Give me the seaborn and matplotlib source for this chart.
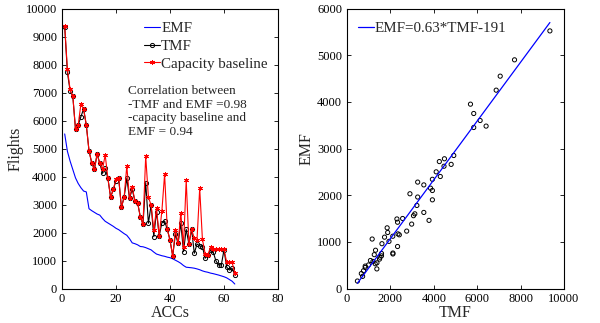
import matplotlib
matplotlib.use("Agg")
import matplotlib.pyplot as plt
import seaborn as sns
import pandas as pd

# ACC index (sorted by EMF)
acc = list(range(1, 65))

tmf = [9350, 7720, 7060, 6875, 5690, 5840, 6135, 6410, 5840, 4920,
       4490, 4255, 4800, 4470, 4110, 4300, 3935, 3257, 3540, 3850,
       3935, 2900, 3257, 3935, 3220, 3540, 3125, 3064, 2564, 2300,
       3780, 2330, 2980, 1850, 2750, 1875, 2350, 2410, 2110, 1730,
       1160, 1935, 1610, 2330, 1315, 2115, 1590, 2115, 1257, 1590,
       1520, 1500, 1080, 1195, 1380, 1300, 990, 840, 840, 1375,
       760, 660, 720, 480]

cap = [9380, 7830, 7110, 6875, 5690, 5840, 6590, 6410, 5840, 4920,
       4490, 4255, 4800, 4470, 4260, 4770, 3935, 3257, 3540, 3900,
       3935, 2900, 3257, 4380, 3220, 3640, 3125, 3064, 2564, 2300,
       4730, 3260, 2980, 2080, 2860, 1875, 2780, 4080, 2110, 1730,
       1160, 2090, 1610, 2710, 1500, 3875, 1590, 2115, 1790, 1730,
       3580, 1760, 1250, 1195, 1470, 1400, 1420, 1420, 1420, 1400,
       935, 935, 935, 560]

emf = [5520, 4900, 4550, 4250, 3950, 3750, 3600, 3480, 3450, 2850,
       2780, 2720, 2660, 2620, 2500, 2400, 2340, 2280, 2220, 2150,
       2100, 2030, 1960, 1900, 1780, 1630, 1600, 1560, 1500, 1490,
       1460, 1420, 1380, 1300, 1230, 1200, 1170, 1150, 1120, 1100,
       1060, 1010, 960, 900, 820, 760, 750, 740, 725, 700,
       670, 630, 600, 580, 550, 530, 505, 480, 450, 420,
       380, 320, 260, 160]

fit_slope = 0.63
fit_icpt = -191
corr_text = "Correlation between\n-TMF and EMF =0.98\n-capacity baseline and\nEMF = 0.94"

df = pd.DataFrame({"ACC": acc, "TMF": tmf, "CAP": cap, "EMF": emf})

sns.set_style("white")
plt.rcParams["font.family"] = ["Liberation Serif", "DejaVu Serif"]
for k in ("xtick", "ytick"):
    plt.rcParams[f"{k}.direction"] = "in"
    plt.rcParams[f"{k}.major.size"] = 3
    plt.rcParams[f"{k}.major.width"] = 0.6
    plt.rcParams[f"{k}.labelsize"] = 9
    plt.rcParams[f"{k}.color"] = "black"
plt.rcParams["xtick.top"] = True
plt.rcParams["ytick.right"] = True
plt.rcParams["xtick.bottom"] = True
plt.rcParams["ytick.left"] = True

W, H = 600, 323
fig = plt.figure(figsize=(W / 100, H / 100), dpi=100)
ax1 = fig.add_axes([62 / W, 1 - 288.5 / H, (278 - 62) / W, 280 / H])
ax2 = fig.add_axes([347 / W, 1 - 288.5 / H, (564 - 347) / W, 280 / H])

# left panel
sns.lineplot(data=df, x="ACC", y="EMF", color="blue", lw=0.8, ax=ax1, label="EMF")
sns.lineplot(data=df, x="ACC", y="TMF", color="black", lw=0.8, marker="o",
             ms=3, mfc="none", mec="black", mew=0.7, ax=ax1, label="TMF")
sns.lineplot(data=df, x="ACC", y="CAP", color="red", lw=0.8, marker=(6, 2, 0),
             ms=3.5, mec="red", mew=0.7, ax=ax1, label="Capacity baseline")
ax1.set_xlim(0, 80)
ax1.set_ylim(0, 10000)
ax1.set_xticks(range(0, 81, 20))
ax1.set_yticks(range(0, 10001, 1000))
ax1.set_xlabel("ACCs", fontsize=11.5, labelpad=0)
ax1.set_ylabel("Flights", fontsize=11.5, labelpad=2)
ax1.legend(loc="upper left", bbox_to_anchor=(0.33, 0.99), frameon=False,
           fontsize=10.8, handlelength=1.1, handletextpad=0.05,
           labelspacing=0.28, borderpad=0.2)
ax1.text(0.304, 0.725, corr_text, transform=ax1.transAxes, fontsize=9.5,
         va="top", ha="left", linespacing=1.16)

# right panel
sns.scatterplot(x=tmf, y=emf, marker="o", s=9, facecolor="none",
                edgecolor="black", linewidth=0.7, ax=ax2)
fx = [min(tmf), max(tmf)]
fy = [fit_slope * v + fit_icpt for v in fx]
sns.lineplot(x=fx, y=fy, color="blue", lw=0.9, ax=ax2,
             label="EMF=0.63*TMF-191")
ax2.set_xlim(0, 10000)
ax2.set_ylim(0, 6000)
ax2.set_xticks(range(0, 10001, 2000))
ax2.set_yticks(range(0, 6001, 1000))
ax2.set_xlabel("TMF", fontsize=11.5, labelpad=0)
ax2.set_ylabel("EMF", fontsize=11.5, labelpad=2)
ax2.legend(loc="upper left", bbox_to_anchor=(0.0, 0.99), frameon=False,
           fontsize=10.8, handlelength=1.1, handletextpad=0.05, borderpad=0.2)

for ax in (ax1, ax2):
    for s in ax.spines.values():
        s.set_color("black")
        s.set_linewidth(0.8)

fig.savefig("out.png", dpi=100)
